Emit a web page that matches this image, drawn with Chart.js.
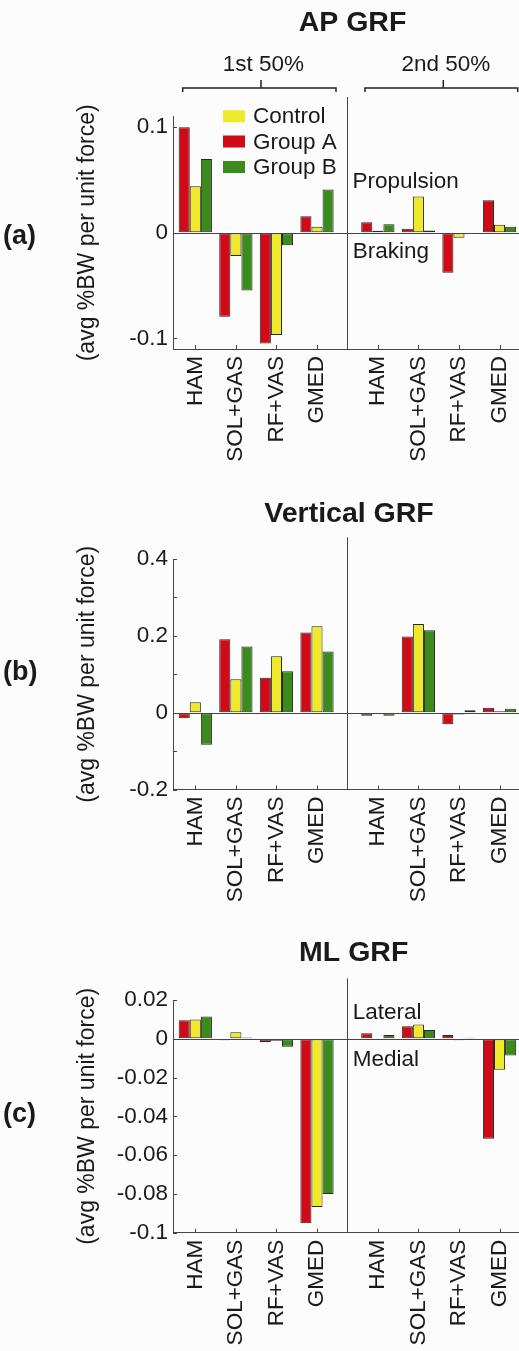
<!DOCTYPE html>
<html>
<head>
<meta charset="utf-8">
<script src="https://cdn.jsdelivr.net/npm/chart.js@4.4.0/dist/chart.umd.min.js"></script>
<style>
  html, body { margin: 0; padding: 0; background: #fcfcfc; }
  body { width: 519px; height: 1351px; position: relative; overflow: hidden; }
  canvas { position: absolute; left: 0; }
</style>
</head>
<body>
<canvas id="apChart" width="519" height="470" style="top:0px"></canvas>
<canvas id="vChart" width="519" height="460" style="top:470px"></canvas>
<canvas id="mlChart" width="519" height="421" style="top:930px"></canvas>
<script>
// categories (two halves of stance, 4 muscle groups each)
const muscles = ["HAM", "SOL+GAS", "RF+VAS", "GMED", "HAM", "SOL+GAS", "RF+VAS", "GMED"];
const musclePos = [1, 2, 3, 4, 5.5, 6.5, 7.5, 8.5];
const halfDivider = 4.75;

const groupNames = ["Group A", "Control", "Group B"];
const legendOrder = ["Control", "Group A", "Group B"];
const groupColors = ["#d10a17", "#efe92b", "#3b8a1c"];

// AP GRF
const apGroupA = [0.100, -0.0795, -0.1047, 0.0158, 0.0101, 0.0038, -0.0379, 0.0309];
const apControl = [0.0442, -0.022, -0.0968, 0.0057, 0.0019, 0.0344, -0.0047, 0.0076];
const apGroupB = [0.070, -0.0546, -0.0117, 0.041, 0.0082, 0.0022, -0.0006, 0.0057];
const apTicks = [-0.1, 0, 0.1];
const apTickLabels = ["-0.1", "0", "0.1"];

// Vertical GRF
const vGroupA = [-0.0148, 0.191, 0.0911, 0.209, -0.0078, 0.198, -0.0304, 0.013];
const vControl = [0.027, 0.0868, 0.1467, 0.225, -0.001, 0.231, -0.005, 0.0035];
const vGroupB = [-0.0833, 0.172, 0.1076, 0.159, -0.0078, 0.2144, 0.006, 0.0104];
const vTicks = [-0.2, -0.1, 0, 0.1, 0.2, 0.3, 0.4];
const vTickLabels = ["-0.2", "", "0", "", "0.2", "", "0.4"];

// ML GRF
const mlGroupA = [0.0096, -0.0007, -0.0017, -0.0951, 0.0029, 0.0065, 0.0019, -0.0516];
const mlControl = [0.010, 0.0034, -0.001, -0.0868, 0.0003, 0.0074, -0.0007, -0.016];
const mlGroupB = [0.0115, 0.0007, -0.0041, -0.080, 0.0019, 0.0045, 0.0005, -0.0086];
const mlTicks = [-0.1, -0.08, -0.06, -0.04, -0.02, 0, 0.02];
const mlTickLabels = ["-0.1", "-0.08", "-0.06", "-0.04", "-0.02", "0", "0.02"];

const yTitle = "(avg %BW per unit force)";
const axisColor = "#444";
const textColor = "#1a1a1a";
const fontFamily = "'Liberation Sans', Arial, Helvetica, sans-serif";

Chart.defaults.font.family = fontFamily;
Chart.defaults.color = textColor;

const toPoints = (values) => values.map((v, i) => ({ x: musclePos[i], y: v }));

function strokeLine(ctx, x1, y1, x2, y2) {
  ctx.beginPath();
  ctx.moveTo(x1, y1);
  ctx.lineTo(x2, y2);
  ctx.stroke();
}

// zero line, divider, inward ticks, titles and annotations
const decor = {
  id: "decor",
  afterDatasetsDraw(chart, args, opts) {
    const ctx = chart.ctx;
    const xs = chart.scales.x;
    const ys = chart.scales.y;
    const area = chart.chartArea;

    ctx.save();
    ctx.strokeStyle = axisColor;
    ctx.lineWidth = 1;

    const y0 = Math.round(ys.getPixelForValue(0)) + 0.5;
    strokeLine(ctx, area.left, y0, area.right, y0);

    const xd = Math.round(xs.getPixelForValue(halfDivider)) + 0.5;
    strokeLine(ctx, xd, opts.dividerTop - opts.top, xd, area.bottom);

    ys.ticks.forEach((t) => {
      const py = Math.round(ys.getPixelForValue(t.value)) + 0.5;
      strokeLine(ctx, area.left, py, area.left + 4, py);
    });
    xs.ticks.forEach((t) => {
      const px = Math.round(xs.getPixelForValue(t.value)) + 0.5;
      strokeLine(ctx, px, area.bottom, px, area.bottom - 4);
    });

    ctx.translate(0, -opts.top);
    ctx.fillStyle = textColor;

    // panel title
    ctx.font = "bold 28.5px " + fontFamily;
    ctx.textAlign = "center";
    ctx.textBaseline = "alphabetic";
    ctx.fillText(opts.title.text, opts.title.x, opts.title.y);

    // panel letter
    ctx.font = "bold 27px " + fontFamily;
    ctx.textAlign = "left";
    ctx.textBaseline = "middle";
    ctx.fillText(opts.letter.text, 3, opts.letter.y);

    ctx.font = "22.5px " + fontFamily;
    ctx.textBaseline = "alphabetic";
    (opts.notes || []).forEach((n) => {
      ctx.textAlign = n.align || "left";
      ctx.fillText(n.text, n.x, n.y);
    });

    (opts.brackets || []).forEach((b) => {
      ctx.strokeStyle = "#222";
      ctx.lineWidth = 1.5;
      ctx.beginPath();
      ctx.moveTo(b.x1, b.y + 4);
      ctx.lineTo(b.x1, b.y);
      ctx.lineTo(b.x2, b.y);
      ctx.lineTo(b.x2, b.y + 4);
      ctx.moveTo(b.xc, b.y);
      ctx.lineTo(b.xc, b.y - 8);
      ctx.stroke();
    });

    if (opts.legend) {
      const lg = opts.legend;
      ctx.font = "22.5px " + fontFamily;
      ctx.textAlign = "left";
      legendOrder.forEach((name, i) => {
        const color = groupColors[groupNames.indexOf(name)];
        const base = lg.baselines[i];
        ctx.fillStyle = color;
        ctx.fillRect(lg.x, base - 13, 22, 12);
        ctx.fillStyle = textColor;
        ctx.fillText(name, lg.x + 30, base);
      });
    }
    ctx.restore();
  }
};

function makeChart(id, p) {
  const canvas = document.getElementById(id);
  const ctx = canvas.getContext("2d");
  const series = [p.groupA, p.control, p.groupB];
  const areaTop = p.areaTop - p.top;
  const xHeight = canvas.height - (p.areaBottom - p.top);

  return new Chart(ctx, {
    type: "bar",
    data: {
      datasets: series.map((vals, i) => ({
        label: groupNames[i],
        data: toPoints(vals),
        backgroundColor: groupColors[i],
        borderColor: "#262626",
        borderWidth: 1,
        borderSkipped: false,
        categoryPercentage: 0.82,
        barPercentage: 1.0
      }))
    },
    options: {
      responsive: false,
      animation: false,
      layout: { padding: { top: areaTop, left: 0, right: 0, bottom: 0 } },
      plugins: {
        legend: { display: false },
        title: { display: false },
        tooltip: { enabled: false },
        decor: p.decor
      },
      scales: {
        x: {
          type: "linear",
          min: 0.45,
          max: 8.98,
          offset: false,
          bounds: "data",
          grid: { display: true, drawOnChartArea: false, drawTicks: false, offset: false },
          border: { display: true, color: axisColor, width: 1 },
          afterBuildTicks: (scale) => {
            scale.ticks = musclePos.map((v) => ({ value: v }));
          },
          afterFit: (scale) => {
            scale.height = xHeight;
            scale.paddingLeft = 0;
            scale.paddingRight = 0;
          },
          ticks: {
            autoSkip: false,
            minRotation: 90,
            maxRotation: 90,
            padding: 7,
            color: textColor,
            font: { size: 22.5 },
            callback: (value, index) => muscles[index]
          }
        },
        y: {
          type: "linear",
          min: p.yMin,
          max: p.yMax,
          bounds: "data",
          grid: { display: true, drawOnChartArea: false, drawTicks: false },
          border: { display: true, color: axisColor, width: 1 },
          afterBuildTicks: (scale) => {
            scale.ticks = p.ticks.map((v) => ({ value: v }));
          },
          afterFit: (scale) => {
            scale.width = 173;
          },
          ticks: {
            padding: 5,
            color: textColor,
            font: { size: 22.5 },
            callback: (value, index) => p.tickLabels[index]
          },
          title: {
            display: true,
            text: yTitle,
            color: textColor,
            font: { size: 23 },
            padding: { top: 74, bottom: 0 }
          }
        }
      }
    },
    plugins: [decor]
  });
}

makeChart("apChart", {
  top: 0, areaTop: 116.7, areaBottom: 349,
  yMin: -0.11, yMax: 0.11,
  ticks: apTicks, tickLabels: apTickLabels,
  groupA: apGroupA, control: apControl, groupB: apGroupB,
  decor: {
    top: 0,
    dividerTop: 97,
    title: { text: "AP GRF", x: 352.5, y: 30.7 },
    letter: { text: "(a)", y: 237 },
    notes: [
      { text: "1st 50%", x: 263.3, y: 70.7, align: "center" },
      { text: "2nd 50%", x: 445.8, y: 70.7, align: "center" },
      { text: "Propulsion", x: 352.5, y: 188.3 },
      { text: "Braking", x: 352.7, y: 258.3 }
    ],
    brackets: [
      { x1: 182.7, x2: 336, xc: 261, y: 88 },
      { x1: 365, x2: 517.7, xc: 443.3, y: 88 }
    ],
    legend: { x: 223, baselines: [123.3, 148.5, 174] }
  }
});

makeChart("vChart", {
  top: 470, areaTop: 559, areaBottom: 789.5,
  yMin: -0.2, yMax: 0.4,
  ticks: vTicks, tickLabels: vTickLabels,
  groupA: vGroupA, control: vControl, groupB: vGroupB,
  decor: {
    top: 470,
    dividerTop: 537.3,
    title: { text: "Vertical GRF", x: 349, y: 521.7 },
    letter: { text: "(b)", y: 672.5 }
  }
});

makeChart("mlChart", {
  top: 930, areaTop: 1000, areaBottom: 1232.7,
  yMin: -0.1, yMax: 0.02,
  ticks: mlTicks, tickLabels: mlTickLabels,
  groupA: mlGroupA, control: mlControl, groupB: mlGroupB,
  decor: {
    top: 930,
    dividerTop: 978.3,
    title: { text: "ML GRF", x: 353.7, y: 960.7 },
    letter: { text: "(c)", y: 1115 },
    notes: [
      { text: "Lateral", x: 352.7, y: 1018.7 },
      { text: "Medial", x: 352.7, y: 1066 }
    ]
  }
});
</script>
</body>
</html>
